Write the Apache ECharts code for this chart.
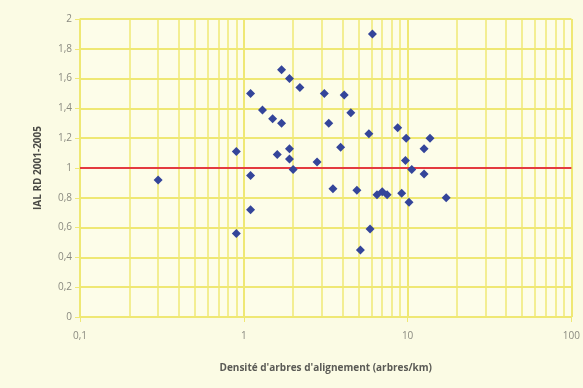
<!DOCTYPE html>
<html>
<head>
<meta charset="utf-8">
<script src="https://cdn.jsdelivr.net/npm/echarts@6/dist/echarts.min.js"></script>
<style>
  html, body { margin: 0; padding: 0; background: #fbfbe4; }
  #chart { width: 583px; height: 388px; }
</style>
</head>
<body>
<div id="chart"></div>
<script>
// Tree density along streets (trees/km) against the 2001-2005 IAL RD index
const density = [
  0.3, 0.9, 0.9, 1.1, 1.1, 1.1, 1.3, 1.5, 1.7, 1.7, 1.6,
  1.9, 1.9, 1.9, 2.0, 2.2, 2.8, 3.1, 3.3, 3.5, 3.9, 4.1,
  4.5, 4.9, 5.15, 5.8, 5.9, 6.1, 6.5, 7.0, 7.5, 8.7, 9.2,
  9.8, 9.7, 10.2, 10.6, 12.6, 12.6, 13.7, 17.2
];
const ialRd = [
  0.92, 1.11, 0.56, 1.50, 0.95, 0.72, 1.39, 1.33, 1.66, 1.30, 1.09,
  1.60, 1.13, 1.06, 0.99, 1.54, 1.04, 1.50, 1.30, 0.86, 1.14, 1.49,
  1.37, 0.85, 0.45, 1.23, 0.59, 1.90, 0.82, 0.84, 0.82, 1.27, 0.83,
  1.20, 1.05, 0.77, 0.99, 1.13, 0.96, 1.20, 0.80
];
// Intermediate logarithmic grid values inside each decade
const minorGrid = [
  0.2, 0.3, 0.4, 0.5, 0.6, 0.7, 0.8, 0.9,
  2, 3, 4, 5, 6, 7, 8, 9,
  20, 30, 40, 50, 60, 70, 80, 90
];
const refValue = 1;
const xTitle = "Densité d'arbres d'alignement (arbres/km)";
const yTitle = 'IAL RD 2001-2005';

const gridColor = '#efe874';
const labelColor = '#8a8a80';
const fontFamily = '"Open Sans", "DejaVu Sans", sans-serif';
const comma = v => String(+v.toFixed(2)).replace('.', ',');

const chart = echarts.init(document.getElementById('chart'), null, { renderer: 'canvas' });
chart.setOption({
  backgroundColor: '#fbfbe4',
  animation: false,
  grid: { left: 80, right: 6, top: 19, bottom: 71, backgroundColor: '#fdfde9', show: true, borderWidth: 0 },
  xAxis: {
    type: 'log',
    logBase: 10,
    min: 0.1,
    max: 100,
    name: xTitle,
    nameLocation: 'middle',
    nameGap: 46,
    nameTextStyle: { color: '#5a5a55', fontSize: 10, fontWeight: 'bold', fontFamily },
    axisLine: { show: true, lineStyle: { color: gridColor, width: 1.5 } },
    axisTick: { show: true, length: 5, lineStyle: { color: gridColor } },
    axisLabel: { color: labelColor, fontSize: 10, fontFamily, margin: 14, formatter: comma },
    splitLine: { show: true, lineStyle: { color: gridColor, width: 2 } }
  },
  yAxis: {
    type: 'value',
    min: 0,
    max: 2,
    interval: 0.2,
    name: yTitle,
    nameLocation: 'middle',
    nameGap: 37,
    nameRotate: 90,
    nameTextStyle: { color: '#4a4a45', fontSize: 10, fontWeight: 'bold', fontFamily },
    axisLine: { show: true, lineStyle: { color: gridColor, width: 1.5 } },
    axisTick: { show: true, length: 5, lineStyle: { color: gridColor } },
    axisLabel: { color: labelColor, fontSize: 10, fontFamily, margin: 8, formatter: comma },
    splitLine: { show: true, lineStyle: { color: gridColor, width: 2 } }
  },
  series: [
    {
      // minor vertical grid lines and the reference level
      type: 'line',
      data: [],
      silent: true,
      markLine: {
        silent: true,
        symbol: 'none',
        label: { show: false },
        animation: false,
        data: minorGrid.map(v => ({ xAxis: v, lineStyle: { color: gridColor, width: 1.5, type: 'solid' } }))
          .concat([{ yAxis: refValue, lineStyle: { color: '#e43a40', width: 2, type: 'solid' } }])
      },
      z: 1
    },
    {
      type: 'scatter',
      symbol: 'diamond',
      symbolSize: 9,
      itemStyle: { color: '#34459a', opacity: 1 },
      data: density.map((d, i) => [d, ialRd[i]]),
      z: 5
    }
  ]
});
</script>
</body>
</html>
